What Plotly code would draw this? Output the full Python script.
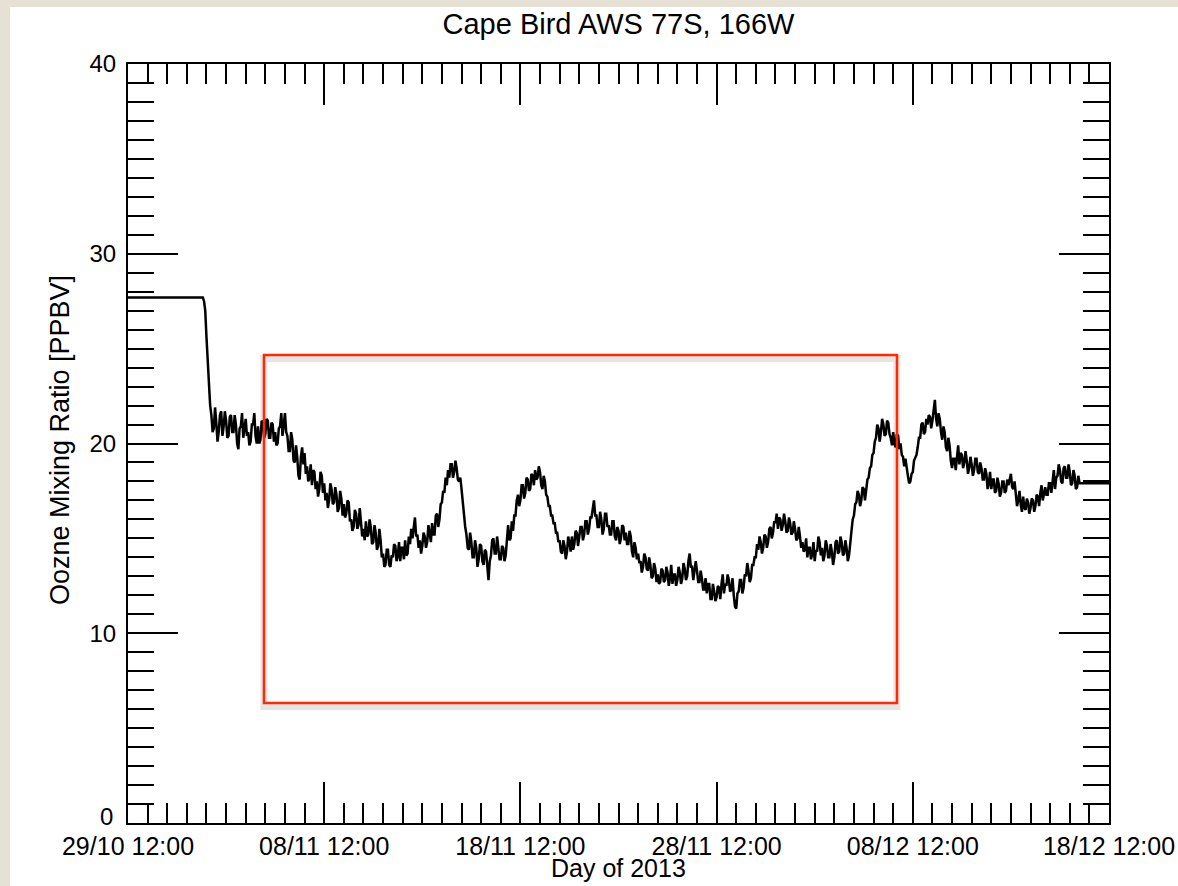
import pandas as pd
import plotly.graph_objects as go

# ---------------- data ----------------
start_time = "2013-10-29 12:00"
end_time = "2013-12-18 12:00"

# flat (held) value at the start and the end of the record
head_times = ["2013-10-29 12:00"]
head_values = [27.7]
tail_times = ["2013-12-18 12:00"]
tail_values = [17.9]

# ozone mixing ratio [ppbv], 90-minute samples from 02/11 06:00 to 17/12 00:00
series_start = "2013-11-02 06:00"
series_step = "90min"
ozone_nov02_nov09 = [
    27.7, 27.7, 27.5, 27.0,
    25.6, 24.3, 23.0, 22.0, 21.5, 20.6, 20.8, 21.9, 21.1, 20.1, 20.6, 21.5, 21.7, 20.4, 20.9, 21.7,
    21.2, 20.3, 20.4, 21.4, 21.5, 20.6, 20.6, 21.5, 21.0, 20.0, 19.7, 20.8, 20.9, 21.6, 20.3, 21.0,
    21.3, 20.4, 20.6, 19.9, 20.1, 21.0, 21.0, 21.6, 20.4, 20.0, 20.9, 20.0, 20.2, 21.2, 21.1, 20.3,
    20.5, 21.3, 21.2, 20.3, 20.3, 21.1, 21.0, 20.1, 20.6, 19.9, 20.0, 20.8, 20.9, 21.6, 20.4, 21.0,
    21.6, 20.6, 20.4, 19.6, 19.6, 20.6, 20.2, 19.1, 19.0, 19.9, 19.3, 18.3, 18.1, 19.3, 19.8, 18.9,
]
ozone_nov09_nov19 = [
    19.5, 18.4, 18.8, 18.0, 18.2, 18.9, 17.8, 18.6, 18.5, 17.6, 18.0, 17.2, 17.6, 18.5, 18.3, 17.4,
    17.9, 17.0, 17.4, 16.6, 17.0, 17.9, 17.6, 16.8, 16.9, 17.7, 17.3, 16.4, 16.6, 17.5, 17.1, 16.2,
    16.8, 16.1, 16.3, 17.0, 16.9, 15.9, 16.0, 15.4, 15.6, 16.5, 16.3, 15.5, 15.7, 16.6, 15.9, 15.1,
    15.5, 14.9, 15.9, 15.1, 15.2, 16.0, 15.6, 14.7, 14.8, 15.7, 15.3, 14.4, 14.6, 15.5, 14.9, 14.0,
    14.2, 13.5, 13.6, 14.4, 14.4, 13.6, 13.5, 14.1, 14.0, 14.7, 14.6, 13.8, 14.1, 14.8, 13.8, 14.5,
    14.5, 13.9, 14.9, 14.1, 14.2, 15.1, 14.7, 15.5, 15.0, 15.7, 16.1, 15.1, 15.2, 14.5, 14.9, 14.2,
    14.6, 15.3, 15.1, 14.5, 14.8, 15.7, 15.3, 14.8, 15.8, 15.2, 15.2, 16.2, 16.3, 15.6, 16.0, 16.8,
    16.9, 17.5, 17.4, 18.2, 17.8, 18.6, 18.2, 18.9, 18.9, 18.2, 18.5, 19.1, 18.7, 18.1, 18.0, 18.2,
    17.6, 16.8, 16.4, 15.6, 15.2, 14.5, 14.4, 15.3, 14.8, 14.0, 14.0, 14.9, 14.5, 13.5, 13.9, 14.7,
    14.6, 13.8, 13.6, 14.4, 14.3, 13.3, 12.8, 13.8, 14.1, 14.9, 15.0, 14.2, 14.2, 15.1, 14.6, 13.9,
]
ozone_nov19_nov29 = [
    13.9, 14.6, 14.5, 13.8, 14.1, 15.1, 15.7, 14.9, 15.0, 15.9, 15.4, 16.2, 16.2, 17.0, 17.3, 16.7,
    17.0, 17.8, 17.8, 17.1, 17.4, 18.2, 18.1, 17.5, 17.6, 18.4, 18.3, 17.8, 18.6, 18.1, 18.2, 18.8,
    18.5, 17.8, 17.6, 18.3, 18.0, 17.3, 17.2, 16.7, 16.7, 16.2, 16.2, 15.8, 15.8, 15.3, 15.3, 14.8,
    14.9, 14.3, 14.2, 14.9, 14.6, 13.9, 14.3, 15.1, 14.8, 14.3, 15.1, 14.4, 14.7, 15.4, 15.3, 14.6,
    15.0, 15.6, 15.6, 14.9, 15.2, 15.9, 15.9, 15.2, 15.5, 16.1, 16.1, 16.7, 17.0, 16.2, 16.2, 15.6,
    15.6, 16.4, 16.0, 15.2, 15.5, 16.3, 16.3, 15.6, 15.7, 15.2, 15.2, 15.9, 15.9, 15.1, 14.9, 15.6,
    15.4, 14.7, 15.0, 15.7, 15.6, 14.9, 15.3, 14.7, 14.7, 15.4, 15.1, 14.3, 14.0, 14.8, 14.5, 13.9,
    14.2, 13.7, 13.8, 13.2, 13.5, 14.2, 14.0, 13.4, 13.3, 14.0, 13.6, 12.9, 13.0, 13.7, 13.4, 12.7,
    13.1, 12.6, 12.7, 13.4, 13.3, 12.7, 12.8, 13.5, 13.2, 12.5, 12.9, 13.6, 12.6, 13.1, 13.1, 12.5,
    12.8, 13.5, 13.2, 12.6, 12.9, 13.7, 13.4, 12.8, 13.0, 13.8, 14.2, 13.5, 13.5, 12.8, 13.2, 13.8,
]
ozone_nov29_dec09 = [
    13.3, 12.7, 12.7, 13.3, 12.9, 12.3, 12.3, 12.9, 12.1, 12.6, 12.6, 11.8, 11.8, 12.6, 12.2, 11.7,
    11.9, 12.5, 12.4, 11.8, 12.6, 13.1, 12.1, 12.6, 12.5, 13.1, 12.8, 12.2, 12.3, 12.9, 12.0, 11.4,
    11.3, 12.1, 12.2, 12.8, 12.8, 12.1, 12.4, 13.1, 13.0, 13.7, 13.3, 12.7, 12.9, 13.6, 13.6, 14.0,
    14.0, 14.7, 14.4, 15.1, 14.8, 14.2, 14.5, 15.2, 15.1, 14.5, 14.8, 15.5, 15.6, 15.0, 15.3, 15.9,
    15.8, 16.3, 15.5, 16.1, 16.0, 15.4, 15.7, 16.3, 15.9, 15.3, 15.4, 16.1, 15.8, 15.2, 15.3, 15.9,
    15.5, 14.9, 15.0, 15.6, 15.1, 14.5, 14.8, 14.3, 14.4, 15.0, 14.0, 14.5, 14.5, 13.9, 14.2, 14.8,
    13.8, 14.4, 14.3, 15.1, 14.8, 14.1, 14.5, 13.8, 14.1, 14.9, 14.6, 14.0, 14.0, 14.7, 14.3, 13.6,
    14.0, 14.8, 14.9, 14.2, 14.3, 15.1, 14.8, 14.1, 14.2, 14.9, 14.5, 13.8, 14.1, 15.0, 15.4, 16.0,
    16.2, 16.8, 16.9, 17.5, 17.3, 16.7, 17.0, 17.7, 17.6, 17.0, 17.5, 18.1, 18.2, 18.7, 18.8, 19.4,
    19.5, 20.1, 20.3, 21.0, 20.8, 20.1, 20.6, 21.3, 21.0, 20.4, 20.5, 21.2, 21.1, 20.5, 20.3, 19.9,
]
ozone_dec09_dec17 = [
    20.6, 20.0, 19.8, 20.5, 20.4, 19.7, 20.0, 19.4, 19.3, 18.8, 19.2, 18.6, 18.3, 17.9, 18.0, 18.4,
    18.5, 19.1, 19.3, 19.4, 19.8, 20.3, 20.3, 21.0, 21.1, 20.5, 20.6, 21.3, 21.0, 21.5, 21.4, 20.8,
    21.2, 21.9, 22.3, 21.3, 20.9, 21.6, 21.3, 20.6, 20.2, 20.9, 20.6, 19.8, 19.6, 20.3, 19.9, 19.1,
    18.7, 19.2, 19.2, 18.6, 19.5, 19.9, 18.9, 19.5, 19.4, 18.7, 19.0, 19.6, 19.1, 18.4, 18.7, 19.3,
    18.9, 18.3, 18.6, 19.2, 19.2, 18.5, 18.4, 19.0, 18.7, 18.1, 18.1, 18.7, 18.4, 17.6, 17.9, 18.5,
    17.6, 18.1, 18.1, 17.4, 17.5, 18.2, 17.9, 17.2, 17.4, 18.0, 18.0, 17.4, 17.5, 18.1, 17.8, 18.2,
    18.4, 17.7, 17.6, 18.0, 17.3, 16.7, 17.0, 17.5, 16.8, 16.4, 17.2, 16.6, 16.5, 17.1, 16.9, 16.3,
    16.6, 17.1, 17.0, 16.4, 16.7, 17.3, 17.2, 16.7, 17.4, 17.8, 17.0, 17.5, 17.7, 17.3, 17.3, 17.9,
    17.9, 17.4, 18.1, 18.6, 17.6, 18.2, 18.3, 18.9, 18.6, 18.0, 17.9, 18.7, 18.8, 18.2, 18.2, 18.9,
    18.5, 17.8, 17.9, 18.6, 18.3, 17.6, 17.7, 18.3, 17.9,
]

x_tick_labels = ["29/10 12:00", "08/11 12:00", "18/11 12:00",
                 "28/11 12:00", "08/12 12:00", "18/12 12:00"]
x_tick_dates = ["2013-10-29 12:00", "2013-11-08 12:00", "2013-11-18 12:00",
                "2013-11-28 12:00", "2013-12-08 12:00", "2013-12-18 12:00"]
y_tick_values = [0, 10, 20, 30, 40]
y_tick_labels = ["", "10", "20", "30", "40"]   # "0" is placed separately, nudged up
y_zero_label = "0"

# highlighted region (red box)
box_start = "2013-11-05 10:20"
box_end = "2013-12-07 16:40"
box_low = 6.32
box_high = 24.66

title_text = "Cape Bird AWS 77S, 166W"
x_title = "Day of 2013"
y_title = "Oozne Mixing Ratio [PPBV]"

# ---------------- figure ----------------
ozone_main = (ozone_nov02_nov09 + ozone_nov09_nov19 + ozone_nov19_nov29
              + ozone_nov29_dec09 + ozone_dec09_dec17)
main_times = pd.date_range(start=series_start, periods=len(ozone_main), freq=series_step)

times = list(pd.to_datetime(head_times)) + list(main_times) + list(pd.to_datetime(tail_times))
ozone = head_values + ozone_main + tail_values

FONT = "Liberation Sans, Arial, Helvetica, sans-serif"

fig = go.Figure()
fig.add_trace(go.Scatter(x=times, y=ozone, mode="lines",
                         line=dict(color="black", width=2.5),
                         hoverinfo="skip", showlegend=False))

# white page panel over beige paper
fig.add_shape(type="rect", xref="paper", yref="paper",
              x0=-0.1203, x1=1.08, y0=-0.09, y1=1.0751,
              fillcolor="white", line=dict(width=0), layer="below")

# box shadow + red box
fig.add_shape(type="rect", xref="x", yref="y",
              x0=box_start, x1=box_end, y0=box_low - 0.18, y1=box_high - 0.18,
              line=dict(color="rgba(0,0,0,0.10)", width=7), fillcolor="rgba(0,0,0,0)")
fig.add_shape(type="rect", xref="x", yref="y",
              x0=box_start, x1=box_end, y0=box_low, y1=box_high,
              line=dict(color="#ff2a00", width=2.5), fillcolor="rgba(0,0,0,0)")

fig.update_xaxes(
    type="date", range=[start_time, end_time], automargin=False,
    tickmode="array", tickvals=x_tick_dates, ticktext=x_tick_labels,
    ticks="inside", ticklen=41, tickwidth=2, tickcolor="black",
    showline=True, linewidth=2, linecolor="black", mirror="ticks",
    showgrid=False, zeroline=False,
    tickfont=dict(family=FONT, size=25, color="black"),
    minor=dict(ticks="inside", ticklen=20, tickwidth=2, tickcolor="black",
               dtick=86400000, tick0=start_time, showgrid=False),
)
fig.update_yaxes(
    range=[0, 40], automargin=False, tickmode="array",
    tickvals=y_tick_values, ticktext=y_tick_labels,
    ticks="inside", ticklen=50, tickwidth=2, tickcolor="black",
    showline=True, linewidth=2, linecolor="black", mirror="ticks",
    showgrid=False, zeroline=False, ticklabelstandoff=5,
    tickfont=dict(family=FONT, size=24, color="black"),
    minor=dict(ticks="inside", ticklen=26, tickwidth=2, tickcolor="black",
               dtick=1, tick0=0, showgrid=False),
)

# "0" label of the y axis, nudged up above the first date label
fig.add_annotation(text=y_zero_label, xref="paper", yref="paper",
                   x=-0.0133, y=0.0092, showarrow=False,
                   font=dict(family=FONT, size=24, color="black"),
                   xanchor="right", yanchor="middle")

fig.add_annotation(text=x_title, xref="paper", yref="paper", x=0.5, y=-0.0593,
                   showarrow=False, font=dict(family=FONT, size=25, color="black"),
                   xanchor="center", yanchor="middle")
fig.add_annotation(text=y_title, xref="paper", yref="paper", x=-0.0693, y=0.5045,
                   textangle=-90, showarrow=False,
                   font=dict(family=FONT, size=27, color="black"),
                   xanchor="center", yanchor="middle")

fig.update_layout(
    width=1178, height=886,
    margin=dict(l=128, r=69, t=64, b=63, autoexpand=False),
    paper_bgcolor="#e7e0d4", plot_bgcolor="white",
    title=dict(text=title_text, x=0.5, xref="paper", y=1 - 24 / 886,
               yanchor="middle", font=dict(family=FONT, size=29, color="black")),
)

fig.write_html("out.html")
